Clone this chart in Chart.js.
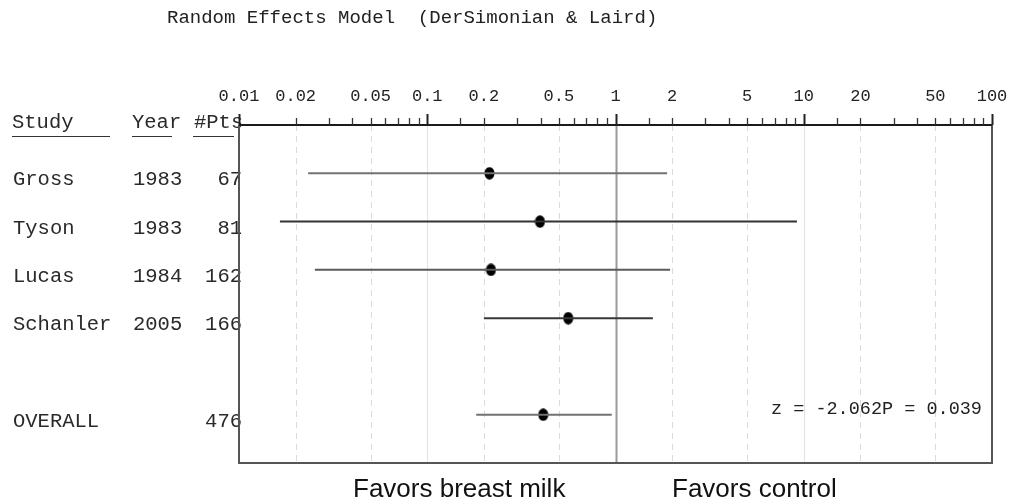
<!DOCTYPE html>
<html>
<head>
<meta charset="utf-8">
<script src="https://cdn.jsdelivr.net/npm/chart.js@4"></script>
<style>
html,body{margin:0;padding:0;background:#fff;}
#wrap{width:1014px;height:502px;}
</style>
</head>
<body>
<div id="wrap"><canvas id="c" width="1014" height="502"></canvas></div>
<script>
// ---- data ----
const studies   = ['Gross', 'Tyson', 'Lucas', 'Schanler', 'OVERALL'];
const years     = ['1983', '1983', '1984', '2005', ''];
const patients  = [67, 81, 162, 166, 476];
const rowPos    = [1, 2, 3, 4, 6];
const estimates = [0.214, 0.397, 0.218, 0.561, 0.413];
const lowerCI   = [0.0233, 0.0165, 0.0253, 0.200, 0.182];
const upperCI   = [1.88, 9.2, 1.95, 1.58, 0.955];
const tickLabels = [0.01, 0.02, 0.05, 0.1, 0.2, 0.5, 1, 2, 5, 10, 20, 50, 100];
const titleText = 'Random Effects Model  (DerSimonian & Laird)';
const statText  = 'z = -2.062P = 0.039';
const leftNote  = 'Favors breast milk';
const rightNote = 'Favors control';

// ---- styles ----
const lineColors = ['#727272', '#333333', '#5a5a5a', '#383838', '#727272'];
const MONO = "'Liberation Mono', 'Courier New', monospace";
const SANS = "'Liberation Sans', Arial, sans-serif";

function isLabeled(v) {
  return tickLabels.some(t => Math.abs(v - t) / t < 1e-6);
}
function isPow10(v) {
  const l = Math.log10(v);
  return Math.abs(l - Math.round(l)) < 1e-6;
}

// ellipse marker
const dot = document.createElement('canvas');
dot.width = 11; dot.height = 13;
(function(){
  const g = dot.getContext('2d');
  g.fillStyle = '#000';
  g.beginPath();
  g.ellipse(5.5, 6.5, 5, 6.2, 0, 0, Math.PI * 2);
  g.fill();
})();

const datasets = [];
studies.forEach((s, i) => {
  datasets.push({
    label: s + ' CI',
    data: [{x: lowerCI[i], y: rowPos[i]}, {x: upperCI[i], y: rowPos[i]}],
    showLine: true,
    borderColor: lineColors[i],
    borderWidth: 2,
    pointRadius: 0,
    pointHoverRadius: 0
  });
});
datasets.push({
  label: 'Estimate',
  data: estimates.map((e, i) => ({x: e, y: rowPos[i]})),
  pointStyle: dot,
  pointRadius: 6,
  showLine: false
});

const forestPlugin = {
  id: 'forest',
  beforeDraw(chart) {
    const ctx = chart.ctx;
    ctx.save();
    ctx.fillStyle = '#fff';
    ctx.fillRect(0, 0, chart.width, chart.height);
    ctx.restore();
  },
  beforeDatasetsDraw(chart) {
    const ctx = chart.ctx, xs = chart.scales.x, a = chart.chartArea;
    ctx.save();
    tickLabels.forEach(v => {
      if (v === tickLabels[0] || v === tickLabels[tickLabels.length - 1]) return;
      const px = Math.round(xs.getPixelForValue(v)) + 0.5;
      ctx.beginPath();
      if (v === 1) {
        ctx.strokeStyle = '#9a9a9a'; ctx.lineWidth = 2; ctx.setLineDash([]);
      } else if (isPow10(v)) {
        ctx.strokeStyle = '#e2e2e2'; ctx.lineWidth = 1; ctx.setLineDash([]);
      } else {
        ctx.strokeStyle = '#dadada'; ctx.lineWidth = 1; ctx.setLineDash([6, 5]);
      }
      ctx.moveTo(px, a.top);
      ctx.lineTo(px, a.bottom);
      ctx.stroke();
    });
    ctx.restore();
  },
  afterDatasetsDraw(chart) {
    const ctx = chart.ctx, xs = chart.scales.x, ys = chart.scales.y, a = chart.chartArea;
    ctx.save();
    ctx.setLineDash([]);
    // table text
    ctx.fillStyle = '#2a2a2a';
    ctx.font = '20.5px ' + MONO;
    ctx.textBaseline = 'alphabetic';
    ctx.textAlign = 'left';
    ctx.fillText('Study', 12, a.top + 3);
    ctx.fillText('Year', 132, a.top + 3);
    ctx.fillText('#Pts', 194, a.top + 3);
    ctx.strokeStyle = '#333'; ctx.lineWidth = 1.2;
    [[12, 110], [132, 172], [193, 234]].forEach(([x0, x1]) => {
      ctx.beginPath(); ctx.moveTo(x0, a.top + 11.5); ctx.lineTo(x1, a.top + 11.5); ctx.stroke();
    });
    studies.forEach((s, i) => {
      const py = ys.getPixelForValue(rowPos[i]) + 12;
      ctx.textAlign = 'left';
      ctx.fillText(s, 13, py);
      if (years[i]) ctx.fillText(years[i], 133, py);
      ctx.textAlign = 'right';
      ctx.fillText(String(patients[i]), a.left + 3, py);
    });
    // frame
    ctx.strokeStyle = '#555'; ctx.lineWidth = 2;
    ctx.beginPath();
    ctx.moveTo(a.left, a.top); ctx.lineTo(a.left, a.bottom);
    ctx.lineTo(a.right, a.bottom); ctx.lineTo(a.right, a.top);
    ctx.stroke();
    // top axis line
    ctx.strokeStyle = '#1a1a1a'; ctx.lineWidth = 2;
    ctx.beginPath(); ctx.moveTo(a.left, a.top); ctx.lineTo(a.right, a.top); ctx.stroke();
    // tick marks
    xs.ticks.forEach(t => {
      const px = Math.round(xs.getPixelForValue(t.value)) + 0.5;
      const major = isPow10(t.value);
      ctx.lineWidth = major ? 2 : 1.3;
      ctx.strokeStyle = major ? '#222' : '#333';
      ctx.beginPath();
      ctx.moveTo(px, a.top);
      ctx.lineTo(px, a.top - (major ? 11 : 7));
      ctx.stroke();
    });
    // title
    ctx.fillStyle = '#222';
    ctx.font = '19px ' + MONO;
    ctx.textAlign = 'left';
    ctx.textBaseline = 'middle';
    ctx.fillText(titleText, 167, 18);
    // statistic
    ctx.font = '18.5px ' + MONO;
    ctx.fillText(statText, 771, 409);
    // favours
    ctx.font = '26px ' + SANS;
    ctx.textBaseline = 'alphabetic';
    ctx.fillStyle = '#111';
    ctx.fillText(leftNote, 353, 497);
    ctx.fillText(rightNote, 672, 497);
    ctx.restore();
  }
};

new Chart(document.getElementById('c'), {
  type: 'scatter',
  data: { datasets },
  options: {
    responsive: false,
    devicePixelRatio: 1,
    animation: false,
    events: [],
    layout: { padding: { left: 239, right: 22, top: 85, bottom: 39 } },
    plugins: { legend: { display: false }, tooltip: { enabled: false }, title: { display: false } },
    scales: {
      x: {
        type: 'logarithmic',
        position: 'top',
        min: 0.01,
        max: 100,
        grid: { display: false, drawTicks: false },
        border: { display: false },
        afterFit(scale) { scale.height = 40; scale.paddingLeft = 0; scale.paddingRight = 0; },
        ticks: {
          autoSkip: false,
          maxRotation: 0,
          minRotation: 0,
          padding: 18,
          color: '#222',
          font: { family: MONO, size: 17 },
          callback(v) { return isLabeled(v) ? String(tickLabels.find(t => Math.abs(v - t) / t < 1e-6)) : ''; }
        }
      },
      y: {
        type: 'linear',
        min: 0,
        max: 7,
        reverse: true,
        display: false
      }
    }
  },
  plugins: [forestPlugin]
});
</script>
</body>
</html>
